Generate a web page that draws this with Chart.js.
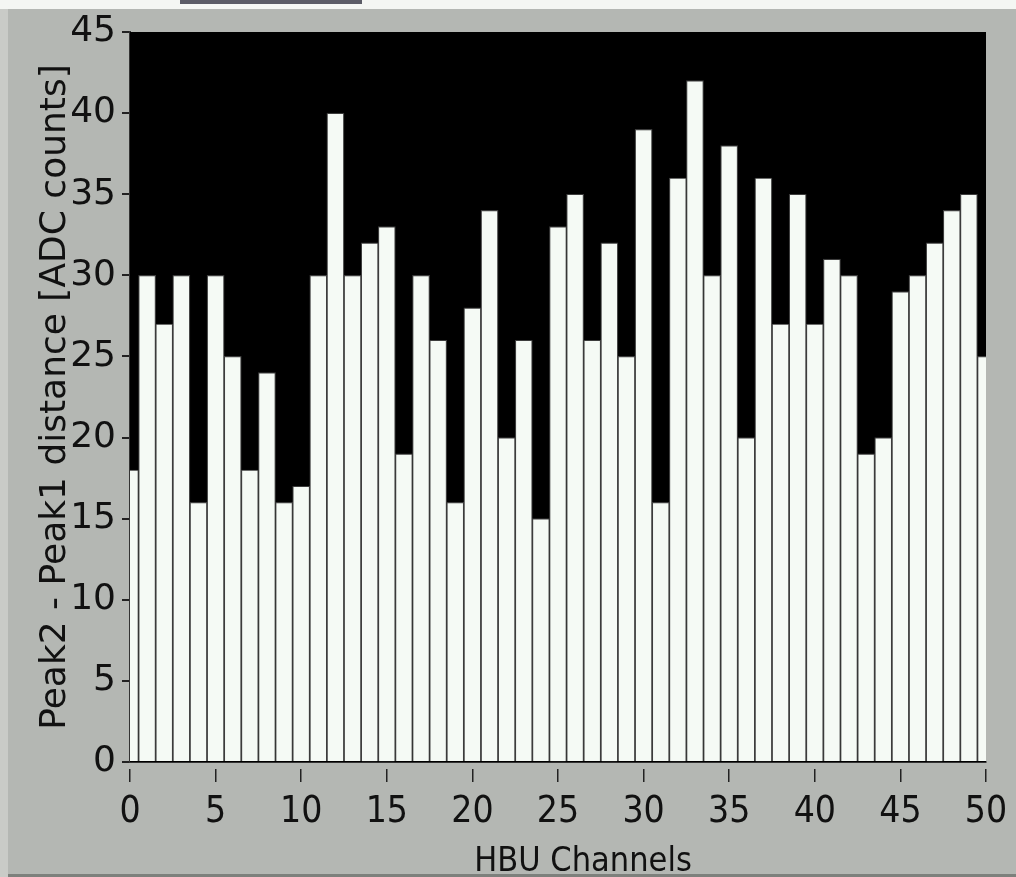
<!DOCTYPE html>
<html>
<head>
<meta charset="utf-8">
<script src="https://cdn.jsdelivr.net/npm/chart.js@4/dist/chart.umd.min.js"></script>
<style>
  html, body { margin: 0; padding: 0; background: #b4b7b3; }
  #wrap { position: relative; width: 1016px; height: 877px; overflow: hidden; }
  #topstrip { position: absolute; left: 0; top: 0; width: 1016px; height: 9px; background: #f4f6f3; }
  #tab { position: absolute; left: 180px; top: 0; width: 182px; height: 4px; background: #5b5c66; }
  #leftstrip { position: absolute; left: 0; top: 9px; width: 8px; height: 868px; background: #c9cbc7; }
  #bottomline { position: absolute; left: 8px; top: 874px; width: 1008px; height: 3px; background: #7d807c; }
  canvas { position: absolute; left: 0; top: 0; }
</style>
</head>
<body>
<div id="wrap">
  <div id="topstrip"></div>
  <div id="tab"></div>
  <div id="leftstrip"></div>
  <div id="bottomline"></div>
  <canvas id="chart" width="1016" height="877"></canvas>
</div>
<script>
// channel numbers 0..50 and the measured peak distance for each one
const channels = [0, 1, 2, 3, 4, 5, 6, 7, 8, 9, 10, 11, 12, 13, 14, 15, 16, 17, 18, 19, 20,
  21, 22, 23, 24, 25, 26, 27, 28, 29, 30, 31, 32, 33, 34, 35, 36, 37, 38, 39, 40,
  41, 42, 43, 44, 45, 46, 47, 48, 49, 50];
const peakDistance = [18, 30, 27, 30, 16, 30, 25, 18, 24, 16, 17, 30, 40, 30, 32, 33, 19, 30, 26, 16, 28,
  34, 20, 26, 15, 33, 35, 26, 32, 25, 39, 16, 36, 42, 30, 38, 20, 36, 27, 35, 27,
  31, 30, 19, 20, 29, 30, 32, 34, 35, 25];

const xTitle = "HBU Channels";
const yTitle = "Peak2 - Peak1 distance [ADC counts]";

const narrow = "'Liberation Sans Narrow', 'DejaVu Sans Condensed', sans-serif";

// black plot background like the LabVIEW graph
const plotBackground = {
  id: "plotBackground",
  beforeDatasetsDraw(chart) {
    const {ctx, chartArea: a} = chart;
    ctx.save();
    ctx.fillStyle = "#000";
    ctx.fillRect(a.left, a.top, a.right - a.left, a.bottom - a.top);
    ctx.restore();
  }
};

// x title sits a bit right of the axis centre in the original
const xTitlePlugin = {
  id: "xTitlePlugin",
  afterDraw(chart) {
    const {ctx, chartArea: a} = chart;
    ctx.save();
    ctx.font = "34px " + narrow;
    ctx.fillStyle = "#111";
    ctx.textAlign = "center";
    ctx.textBaseline = "alphabetic";
    ctx.fillText(xTitle, (a.left + a.right) / 2 + 25, 871);
    ctx.restore();
  }
};

const ctx = document.getElementById("chart");
const chart = new Chart(ctx, {
  type: "bar",
  data: {
    datasets: [{
      data: channels.map((c, i) => ({x: c, y: peakDistance[i]})),
      backgroundColor: "#f5faf5",
      borderColor: "#3c3c3c",
      borderWidth: 1.2,
      barPercentage: 1,
      categoryPercentage: 1,
      clip: 0
    }]
  },
  options: {
    responsive: false,
    animation: false,
    layout: {padding: {left: 0, top: 32, right: 30, bottom: 0}},
    plugins: {legend: {display: false}, tooltip: {enabled: false}},
    scales: {
      x: {
        type: "linear",
        offset: false,
        min: 0,
        max: 50,
        afterFit: (s) => { s.height = 115; },
        ticks: {
          stepSize: 5,
          color: "#111",
          padding: 8,
          maxRotation: 0,
          font: {family: narrow, size: 37}
        },
        grid: {
          display: true, offset: false, drawOnChartArea: false, drawTicks: true,
          tickLength: 20, tickBorderDash: [0, 6, 14, 6], tickColor: "#222", lineWidth: 1.5
        },
        border: {color: "#333", width: 2},
        title: {display: false}
      },
      y: {
        min: 0,
        max: 45,
        afterFit: (s) => { s.width = 130; },
        ticks: {
          stepSize: 5,
          color: "#111",
          padding: 2,
          font: {family: "'DejaVu Sans', sans-serif", size: 36}
        },
        grid: {
          display: true, drawOnChartArea: false, drawTicks: true,
          tickLength: 12, tickBorderDash: [0, 4, 8, 4], tickColor: "#222", lineWidth: 2
        },
        border: {color: "#333", width: 2},
        title: {
          display: true,
          text: yTitle,
          color: "#111",
          padding: {top: 34, bottom: 0},
          font: {family: "'DejaVu Sans', sans-serif", size: 36}
        }
      }
    }
  },
  plugins: [plotBackground, xTitlePlugin]
});
</script>
</body>
</html>
